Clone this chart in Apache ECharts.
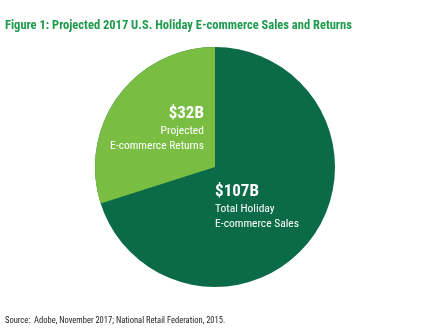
<!DOCTYPE html>
<html>
<head>
<meta charset="utf-8">
<script src="https://cdn.jsdelivr.net/npm/echarts@6/dist/echarts.min.js"></script>
<style>
  html, body { margin: 0; padding: 0; background: #fff; }
  #chart { width: 430px; height: 331px; }
</style>
</head>
<body>
<div id="chart"></div>
<script>
// Projected 2017 U.S. holiday e-commerce figures, in billions of dollars
const categories = ['Total Holiday E-commerce Sales', 'Projected E-commerce Returns'];
const totalSales = [107];
const projectedReturns = [32];
const valueLabels = ['$107B', '$32B'];

const DARK = '#0b6a48';
const LIGHT = '#79be42';
const FONT = '"Roboto Condensed", "Open Sans Condensed", sans-serif';

const chart = echarts.init(document.getElementById('chart'), null, { renderer: 'canvas' });

const center = [215, 167];
const radius = 120;

chart.setOption({
  animation: false,
  title: [
    {
      text: 'Figure 1: Projected 2017 U.S. Holiday E-commerce Sales and Returns',
      left: 0, top: 14,
      textStyle: { fontFamily: FONT, fontWeight: 'bold', fontSize: 12.5, color: '#1e9a4c' }
    },
    {
      text: 'Source:  Adobe, November 2017; National Retail Federation, 2015.',
      left: 0, top: 311,
      textStyle: { fontFamily: FONT, fontWeight: 'normal', fontSize: 8.5, color: '#222' }
    }
  ],
  series: [
    {
      // whole disc: total holiday e-commerce sales
      type: 'pie',
      center: center, radius: radius,
      startAngle: 90,
      silent: true,
      data: [{
        name: categories[0], value: totalSales[0],
        itemStyle: { color: DARK },
        label: {
          show: true, position: 'center', offset: [42, 40],
          formatter: ['{v|' + valueLabels[0] + '}', '{t|Total Holiday}', '{t|E-commerce Sales}'].join('\n'),
          rich: {
            v: { fontFamily: FONT, fontWeight: 'bold', fontSize: 17, color: '#fff', align: 'left', lineHeight: 19 },
            t: { fontFamily: FONT, fontSize: 11.5, color: '#fff', align: 'left', lineHeight: 15 }
          }
        }
      }],
      labelLine: { show: false }
    },
    {
      // returns drawn as a share of total sales
      type: 'pie',
      center: center, radius: radius,
      startAngle: 90, clockwise: false,
      silent: true,
      data: [
        {
          name: categories[1], value: projectedReturns[0],
          itemStyle: { color: LIGHT },
          label: {
            show: true, position: 'center', offset: [-58, -38],
            formatter: ['{v|' + valueLabels[1] + '}', '{t|Projected}', '{t|E-commerce Returns}'].join('\n'),
            rich: {
              v: { fontFamily: FONT, fontWeight: 'bold', fontSize: 17, color: '#fff', align: 'right', lineHeight: 19 },
              t: { fontFamily: FONT, fontSize: 11.5, color: '#fff', align: 'right', lineHeight: 15 }
            }
          }
        },
        {
          name: 'rest', value: totalSales[0] - projectedReturns[0],
          itemStyle: { color: 'rgba(0,0,0,0)' },
          label: { show: false }
        }
      ],
      labelLine: { show: false }
    }
  ]
});
</script>
</body>
</html>
